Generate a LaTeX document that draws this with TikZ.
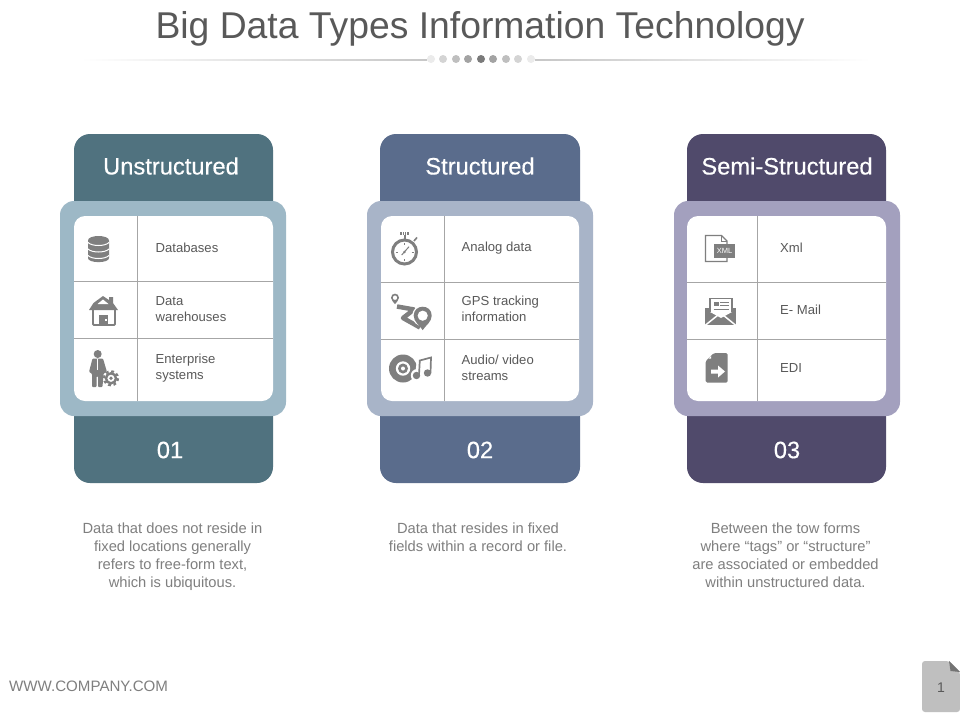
\documentclass[tikz,border=0pt]{standalone}
\usepackage{fontspec}
\setmainfont{Liberation Sans}
\newfontfamily\headfont[FakeBold=0.35]{Liberation Sans}
\definecolor{ink}{HTML}{595959}
\definecolor{soft}{HTML}{7F7F7F}
\definecolor{icon}{HTML}{7F7F7F}
\definecolor{rule}{HTML}{A6A6A6}
\definecolor{darkA}{HTML}{50727F}
\definecolor{lightA}{HTML}{9DB8C6}
\definecolor{darkB}{HTML}{5A6C8C}
\definecolor{lightB}{HTML}{A8B4C8}
\definecolor{darkC}{HTML}{504A6B}
\definecolor{lightC}{HTML}{A3A0BE}
\tikzset{
  x=1pt,y=-1pt,
  titletext/.style={font=\fontsize{37.3}{40}\selectfont,text=ink,inner sep=0pt},
  headtext/.style={font=\headfont\fontsize{23.7}{26}\selectfont,text=white,inner sep=0pt},
  itemtext/.style={font=\fontsize{13.1}{16}\selectfont,text=ink,inner sep=0pt,anchor=west,align=left},
  desctext/.style={font=\fontsize{14.7}{18}\selectfont,text=soft,inner sep=0pt,anchor=north,align=center},
  footertext/.style={font=\fontsize{15.1}{17}\selectfont,text=soft,inner sep=0pt,anchor=west},
  gridline/.style={draw=rule,line width=1pt},
  iconline/.style={draw=icon,fill=none},
}
\newcommand{\cardshape}[9]{%
  \fill[#1,rounded corners=16pt] (#3,134) rectangle (#4,483);
  \fill[#2,rounded corners=14pt] (#5,201) rectangle (#6,416);
  \fill[white,rounded corners=11pt] (#7,216) rectangle (#8,401);
  \draw[gridline] (#9,216) -- (#9,401);
}
\newcommand{\pinshape}[3]{%
  \fill[white] (#1,#2) circle [radius=#3+1.5];
  \fill[icon,even odd rule] (#1,#2+#3*1.6) .. controls (#1-#3*0.3,#2+#3*1.1) and (#1-#3,#2+#3*0.7) .. (#1-#3,#2)
    .. controls (#1-#3,#2-#3*1.33) and (#1+#3,#2-#3*1.33) .. (#1+#3,#2)
    .. controls (#1+#3,#2+#3*0.7) and (#1+#3*0.3,#2+#3*1.1) .. (#1,#2+#3*1.6) -- cycle
    (#1,#2) circle [radius=#3*0.58];
}
\begin{document}
\begin{tikzpicture}
\useasboundingbox (0,0) rectangle (960,720);
\fill[white] (0,0) rectangle (960,720);

% Title and divider
\node[titletext] (title) at (480,29) {Big Data Types Information Technology};
\shade[left color=white,right color=black!22] (80,59.6) rectangle (427,60.4);
\shade[left color=black!22,right color=white] (535,59.6) rectangle (870,60.4);
\foreach \px/\shadeval in {431/8,443/17,456/25,468/36,481/52,493/36,506/25,518/17,531/8}
  \fill[black!\shadeval] (\px,59) circle [radius=4];

% Cards
\cardshape{darkA}{lightA}{74}{273}{60}{286}{74}{273}{137.5}
\draw[gridline] (74,281) -- (273,281) (74,338) -- (273,338);
\cardshape{darkB}{lightB}{380}{580}{367}{593}{381}{579}{444.5}
\draw[gridline] (381,282) -- (579,282) (381,339) -- (579,339);
\cardshape{darkC}{lightC}{687}{886}{674}{900}{687}{886}{757.5}
\draw[gridline] (687,282) -- (886,282) (687,339) -- (886,339);

% Headings
\node[headtext] (headA) at (171,166) {Unstructured};
\node[headtext] (headB) at (480,166) {Structured};
\node[headtext] (headC) at (787,166) {Semi-Structured};
\node[headtext] (numA) at (170,450) {01};
\node[headtext] (numB) at (480,450) {02};
\node[headtext] (numC) at (787,450) {03};

% Items
\node[itemtext] (a1) at (155.5,248) {Databases};
\node[itemtext] (a2) at (155.5,309) {Data\\warehouses};
\node[itemtext] (a3) at (155.5,368) {Enterprise\\systems};
\node[itemtext] (b1) at (461.5,248) {Analog data};
\node[itemtext] (b2) at (461.5,309) {GPS tracking\\information};
\node[itemtext] (b3) at (461.5,368) {Audio/ video\\streams};
\node[itemtext] (c1) at (780,248) {Xml};
\node[itemtext] (c2) at (780,310) {E- Mail};
\node[itemtext] (c3) at (780,368) {EDI};

% Descriptions
\node[desctext] (da) at (172.5,522.5) {Data that does not reside in\\fixed locations generally\\refers to free-form text,\\which is ubiquitous.};
\node[desctext] (db) at (478,522.5) {Data that resides in fixed\\fields within a record or file.};
\node[desctext] (dc) at (785.5,522.5) {Between the tow forms\\where “tags” or “structure”\\are associated or embedded\\within unstructured data.};

% Footer
\node[footertext] (web) at (9,686.5) {WWW.COMPANY.COM};
\fill[black!25,rounded corners=3pt] (922,661) -- (949,661) -- (960,672) -- (960,712) -- (922,712) -- cycle;
\fill[black!55] (949,661) -- (960,672) -- (950.5,671) -- cycle;
\node[font=\fontsize{14}{16}\selectfont,text=ink,inner sep=0pt] (page) at (941,688) {1};

% Icon: database
\fill[icon] (88,240.5) .. controls (88,234.5) and (109,234.5) .. (109,240.5) -- (109,258) .. controls (109,263.5) and (88,263.5) .. (88,258) -- cycle;
\draw[white,line width=1pt] (88,242.5) .. controls (92,246.5) and (105,246.5) .. (109,242.5);
\draw[white,line width=1pt] (88,249) .. controls (92,253) and (105,253) .. (109,249);
\draw[white,line width=1pt] (88,255.5) .. controls (92,259.5) and (105,259.5) .. (109,255.5);

% Icon: house
\fill[icon] (89,310) -- (93.5,303) -- (103,296) -- (109,300) -- (109,297) -- (113,297) -- (113,303) -- (118,310) -- cycle;
\fill[white] (103,299.5) -- (108.5,304) -- (97.5,304) -- cycle;
\draw[iconline,line width=1.8pt,rounded corners=1pt] (93,310) -- (93,325) -- (115,325) -- (115,310);
\fill[icon] (99,315) rectangle (108,325);
\fill[white] (105,319) rectangle (106.5,320.5);

% Icon: man with gear
\fill[icon] (97.7,354) circle [radius=4];
\fill[icon,rounded corners=1pt] (92.5,358.5) -- (103,358.5) -- (107,372) -- (103.5,373.5) -- (102.5,387) -- (98,387) -- (98,376) -- (96.5,376) -- (96.5,387) -- (92,387) -- (92,373.5) -- (89,372) -- cycle;
\draw[white,line width=0.8pt] (97.7,358.5) -- (97.7,370);
\draw[icon,line width=2.4pt] (111,378.3) circle [radius=5];
\draw[icon,line width=2.2pt,dash pattern=on 2.75pt off 2.75pt] (111,378.3) circle [radius=7];
\fill[icon] (111,378.3) circle [radius=1.9];

% Icon: stopwatch
\draw[iconline,line width=3pt] (404.5,252) circle [radius=12];
\draw[icon,line width=3pt] (400,233.5) -- (408.5,233.5);
\draw[white,line width=.6pt] (402.5,232) -- (402.5,235) (404.5,232) -- (404.5,235) (406.5,232) -- (406.5,235);
\draw[icon,line width=2pt] (404.5,235) -- (404.5,239);
\draw[icon,line width=1.6pt] (414,241) -- (417,237.5);
\draw[icon,line width=1pt] (401.7,255) -- (409,246.7);
\fill[icon] (404.5,252) circle [radius=1.3];
\draw[icon,line width=.7pt] (404.5,243) -- (404.5,245) (404.5,259) -- (404.5,261) (395.5,252) -- (397.5,252) (411.5,252) -- (413.5,252);

% Icon: GPS
\draw[icon,line width=4.5pt,line join=round] (397,306.5) -- (414,309.5) -- (403,318) -- (420,327.5);
\pinshape{395}{297.7}{4}
\pinshape{422.7}{315.7}{9}

% Icon: audio disc and note
\fill[icon] (403,368.5) circle [radius=14];
\fill[white] (403,368.5) circle [radius=7.2];
\fill[icon] (403,368.5) circle [radius=5];
\fill[white] (403,368.5) circle [radius=2];
\draw[white,line width=5pt] (417.5,375) -- (419.5,360) -- (431,357);
\fill[white] (417.3,375.5) circle [radius=6.5];
\draw[iconline,line width=1.7pt] (419,375) -- (419.8,360.5) -- (431,357.5) -- (430.5,373);
\fill[icon] (416.5,375.5) circle [radius=3.7];
\fill[icon] (427.5,373) circle [radius=3.7];

% Icon: XML file
\draw[iconline,line width=1.2pt] (727,244) -- (727,241) -- (721.5,235.5) -- (705.5,235.5) -- (705.5,261.5) -- (727,261.5) -- (727,258);
\draw[iconline,line width=.9pt] (721.5,235.5) -- (721.5,241) -- (727,241);
\fill[icon] (714,244) rectangle (735,258);
\node[font=\fontsize{7.5}{8}\selectfont,text=white,inner sep=0pt] (xmltag) at (724.5,251) {XML};

% Icon: mail
\fill[icon] (705,308) -- (736,308) -- (736,325) -- (705,325) -- cycle;
\fill[white] (710,298.5) -- (732,298.5) -- (732,312) -- (721,318) -- (710,312) -- cycle;
\draw[iconline,line width=1.3pt] (710,312) -- (710,298.5) -- (732,298.5) -- (732,312);
\draw[white,line width=1.5pt] (705,325.5) -- (720.5,313) -- (736,325.5);
\fill[icon] (713.5,302) rectangle (718.5,306);
\draw[icon,line width=.8pt] (720,302.5) -- (729,302.5) (720,305.5) -- (729,305.5) (713.5,309) -- (729,309);

% Icon: EDI file
\fill[icon,rounded corners=1.5pt] (714,353) -- (727.7,353) -- (727.7,382.7) -- (705.7,382.7) -- (705.7,361) -- cycle;
\fill[white] (711,356) -- (711,358.5) -- (708.5,358.5) -- cycle;
\fill[white] (711,369.5) -- (718,369.5) -- (718,365.5) -- (725,371.5) -- (718,377.5) -- (718,373.5) -- (711,373.5) -- cycle;
\end{tikzpicture}
\end{document}
